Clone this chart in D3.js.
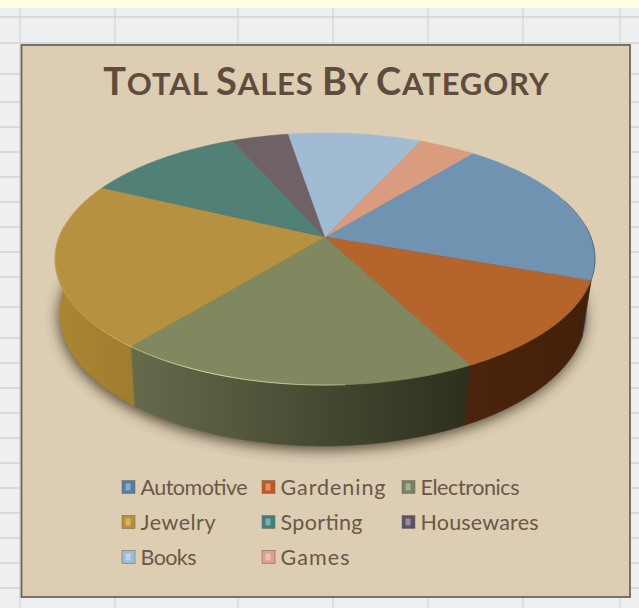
<!DOCTYPE html>
<html>
<head>
<meta charset="utf-8">
<script src="https://cdn.jsdelivr.net/npm/d3@7"></script>
<style>
html,body{margin:0;padding:0;background:#eeeff1;overflow:hidden}
svg{display:block}
</style>
</head>
<body>
<svg id="chart" width="639" height="608"></svg>
<script>
// Sales share per category, in pie order
const categories = ["Automotive","Gardening","Electronics","Jewelry","Sporting","Housewares","Books","Games"];
const sales = [19.6,11.9,18.5,21.2,11.2,4.1,9.4,4.0];
const topColors = ["#7093b2","#b5652c","#81875f","#b69240","#518077","#6f6266","#a0bbd2","#d99c7e"];
const wallLeft = ["#56708a","#4a240c","#666b4c","#a98632","#3e635c","#554a4e","#7d93a6","#a97a62"];
const wallRight = ["#435a70","#43200a","#2c2f1c","#9f7d2f","#3e635c","#554a4e","#7d93a6","#a97a62"];
const swatchColors = ["#4f7ea6","#c4561e","#75835f","#b5932f","#3f7f82","#5d5068","#9dbcd6","#dd9f8f"];
const labelWidths = [107,105,99,75,82,118,56,69];
const titleText = "Total Sales By Category";
const firstSliceDeg = 39.0;

// Camera model of the tilted disc: u/v lie on the unit circle, h is the drop to the lower rim
const cam = {x0:325, y0:237, k:265.8, s:122.2, p:0.1746, q:0.025, t:55.5, dx:-2};
function project(angle, h){
  const u = Math.sin(angle), v = -Math.cos(angle);
  const d = 1 - cam.p*v + cam.q*h;
  return [cam.x0 + cam.dx*h + cam.k*u/d, cam.y0 + (cam.s*v + cam.t*h)/d];
}
function arcPoints(a0, a1, h){
  const n = Math.max(2, Math.ceil((a1-a0)/0.02));
  return d3.range(n+1).map(i => project(a0 + (a1-a0)*i/n, h));
}

const svg = d3.select("#chart");
const defs = svg.append("defs");
const line = d3.line();

// Worksheet behind the chart
svg.append("rect").attr("width",639).attr("height",608).attr("fill","#eeeff1");
const rowLines = [17,43,74,102,127,152,177,202,227,252,277,307,338,363,388,413,438,463,488,513,538,563,588];
const colLines = [20,115,238,333,428,523,620];
svg.append("g").selectAll("line").data(rowLines).join("line")
  .attr("x1",0).attr("x2",639).attr("y1",d=>d).attr("y2",d=>d)
  .attr("stroke","#d3d3d5").attr("stroke-width",1.4);
svg.append("g").selectAll("line").data(colLines).join("line")
  .attr("x1",d=>d).attr("x2",d=>d).attr("y1",8).attr("y2",608)
  .attr("stroke","#d3d3d5").attr("stroke-width",1.2);
svg.append("rect").attr("width",639).attr("height",8).attr("fill","#ffffe4");

// Chart panel
svg.append("rect").attr("x",21.5).attr("y",45).attr("width",608.5).attr("height",552)
  .attr("fill","#dccdb3").attr("stroke","#6e655b").attr("stroke-width",1.8);

// Title in small capitals: initials larger than the rest
const title = svg.append("text").attr("x",326.5).attr("y",95).attr("text-anchor","middle")
  .attr("font-family","Lato").attr("font-weight",700).attr("fill","#5f4c3e").attr("letter-spacing",0.85);
titleText.split("").forEach(ch => {
  const isCap = ch === ch.toUpperCase() && ch !== " ";
  title.append("tspan").attr("font-size", isCap ? 38 : 31).text(ch.toUpperCase());
});

// Pie angles
const tau = 2*Math.PI, rad = firstSliceDeg*Math.PI/180;
const slices = d3.pie().sort(null).startAngle(rad).endAngle(rad+tau)(sales);

// Soft shadow thrown below the disc
defs.append("filter").attr("id","soft").attr("x","-20%").attr("y","-20%").attr("width","140%").attr("height","140%")
  .append("feGaussianBlur").attr("stdDeviation",7);
svg.append("path")
  .attr("d", line(arcPoints(0,tau,1.03)) + "Z")
  .attr("transform","translate(-1,2)")
  .attr("fill","#453726").attr("opacity",0.9).attr("filter","url(#soft)");

// Rim walls, only over the arc facing the viewer
const frontStart = 85*Math.PI/180, frontEnd = 275*Math.PI/180;
slices.forEach((sl,i) => {
  const a0 = Math.max(sl.startAngle, frontStart), a1 = Math.min(sl.endAngle, frontEnd);
  if (a1 <= a0) return;
  const g = defs.append("linearGradient").attr("id","wall"+i).attr("gradientUnits","userSpaceOnUse");
  const pa = project(a0,0), pb = project(a1,0);
  g.attr("x1",Math.min(pa[0],pb[0])).attr("x2",Math.max(pa[0],pb[0])).attr("y1",0).attr("y2",0);
  g.append("stop").attr("offset",0).attr("stop-color",wallLeft[i]);
  g.append("stop").attr("offset",1).attr("stop-color",wallRight[i]);
  const top = arcPoints(a0,a1,0);
  const bottom = arcPoints(a0,a1,1).reverse();
  svg.append("path").attr("d",line(top.concat(bottom))+"Z")
    .attr("fill","url(#wall"+i+")").attr("stroke","url(#wall"+i+")").attr("stroke-width",0.6);
});

// Top faces
slices.forEach((sl,i) => {
  const pts = [[cam.x0,cam.y0]].concat(arcPoints(sl.startAngle,sl.endAngle,0));
  svg.append("path").attr("d",line(pts)+"Z").attr("fill",topColors[i])
    .attr("stroke",topColors[i]).attr("stroke-width",0.5);
});

// Bevel along the rim: a highlight at front left, a dark edge at the right
const hl = defs.append("linearGradient").attr("id","bevel").attr("gradientUnits","userSpaceOnUse")
  .attr("x1",60).attr("x2",470).attr("y1",0).attr("y2",0);
[[0,"#d9bd6c",0.35],[0.2,"#e6cf86",0.7],[0.35,"#e9e3ae",0.9],[0.65,"#d2d6ae",0.7],[1,"#a8ab88",0]].forEach(([o,c,a]) =>
  hl.append("stop").attr("offset",o).attr("stop-color",c).attr("stop-opacity",a));
svg.append("path").attr("d",line(arcPoints(Math.PI*0.98,Math.PI*1.56,0)))
  .attr("fill","none").attr("stroke","url(#bevel)").attr("stroke-width",1);
svg.append("path").attr("d",line(arcPoints(Math.PI*0.40,Math.PI*0.80,0)))
  .attr("fill","none").attr("stroke","#4a2f1a").attr("stroke-width",0.7).attr("opacity",0.4);

// Legend
const legendX = [122,262,402], legendY = [487,522,557];
const legend = svg.append("g").selectAll("g").data(categories).join("g")
  .attr("transform",(d,i)=>`translate(${legendX[i%3]},${legendY[Math.floor(i/3)]})`);
legend.append("rect").attr("x",0).attr("y",-6.5).attr("width",13).attr("height",13)
  .attr("fill",(d,i)=>swatchColors[i]).attr("stroke","#7b6f60").attr("stroke-width",0.6);
legend.append("rect").attr("x",3.5).attr("y",-3.5).attr("width",5).attr("height",7)
  .attr("fill","#ffffff").attr("opacity",0.35);
legend.append("text").attr("x",18.5).attr("y",8).text(d=>d)
  .attr("font-family","Lato").attr("font-size",21.5).attr("fill","#6a5848")
  .attr("textLength",(d,i)=>labelWidths[i]).attr("lengthAdjust","spacing");
</script>
</body>
</html>
